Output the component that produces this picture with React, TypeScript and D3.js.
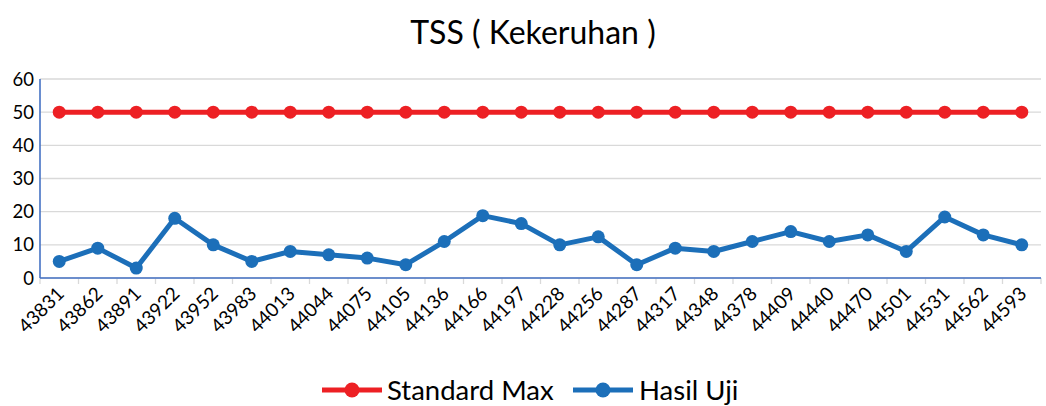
import React from 'react';
import * as d3 from 'd3';

const categories = ['43831', '43862', '43891', '43922', '43952', '43983', '44013', '44044', '44075', '44105', '44136', '44166', '44197', '44228', '44256', '44287', '44317', '44348', '44378', '44409', '44440', '44470', '44501', '44531', '44562', '44593'];
const standardMax = [50, 50, 50, 50, 50, 50, 50, 50, 50, 50, 50, 50, 50, 50, 50, 50, 50, 50, 50, 50, 50, 50, 50, 50, 50, 50];
const hasilUji = [5, 9, 3, 18, 10, 5, 8, 7, 6, 4, 11, 18.8, 16.4, 10, 12.4, 4, 9, 8, 11, 14, 11, 13, 8, 18.4, 13, 10];
const yTicks = [0, 10, 20, 30, 40, 50, 60];

const RED = '#ED2024';
const BLUE = '#1C6FB9';
const FONT = 'Lato, "Open Sans", sans-serif';

const App = () => {
  const width = 1046;
  const height = 406;
  const margin = { top: 79, right: 5, bottom: 128, left: 40 };
  const innerW = width - margin.left - margin.right;
  const innerH = height - margin.top - margin.bottom;

  const x = d3.scaleBand().domain(categories).range([0, innerW]);
  const y = d3.scaleLinear().domain([0, 60]).range([innerH, 0]);
  const cx = (c: string) => (x(c) as number) + x.bandwidth() / 2;

  const line = d3.line<number>()
    .x((_, i) => cx(categories[i]))
    .y(d => y(d));

  const series = [
    { name: 'Standard Max', values: standardMax, color: RED },
    { name: 'Hasil Uji', values: hasilUji, color: BLUE },
  ];

  return (
    <svg width={width} height={height} style={{ position: 'absolute', left: 0, top: 0 }}>
      <rect width={width} height={height} fill="#fff" />
      <text x={533} y={44} textAnchor="middle" fontFamily={FONT} fontSize={32} fill="#000">TSS ( Kekeruhan )</text>
      <g transform={`translate(${margin.left},${margin.top})`}>
        {/* gridlines */}
        {yTicks.map(t => (
          <line key={t} x1={0} x2={innerW} y1={y(t)} y2={y(t)} stroke="#d9d9d9" strokeWidth={1.3} />
        ))}
        {/* y labels */}
        {yTicks.map(t => (
          <text key={'l' + t} x={-6} y={y(t)} dy="0.36em" textAnchor="end" fontFamily={FONT} fontSize={18.5} fill="#000">{t}</text>
        ))}
        {/* x ticks */}
        {categories.concat(['end']).map((c, i) => {
          const px = i * x.bandwidth();
          return <line key={'t' + i} x1={px} x2={px} y1={innerH} y2={innerH + 6} stroke="#d9d9d9" strokeWidth={1.3} />;
        })}
        {/* axes */}
        <line x1={0} x2={innerW} y1={innerH} y2={innerH} stroke="#4472C4" strokeWidth={1.3} />
        <line x1={0} x2={0} y1={0} y2={innerH} stroke="#4472C4" strokeWidth={1.6} />
        {/* x labels */}
        {categories.map(c => (
          <text key={'x' + c} transform={`translate(${cx(c) + 6},${innerH + 17}) rotate(-45)`} textAnchor="end" fontFamily={FONT} fontSize={19} fill="#000">{c}</text>
        ))}
        {/* series */}
        {series.map(s => (
          <g key={s.name}>
            <path d={line(s.values) || ''} fill="none" stroke={s.color} strokeWidth={5} strokeLinejoin="round" />
            {s.values.map((v, i) => (
              <circle key={i} cx={cx(categories[i])} cy={y(v)} r={6.5} fill={s.color} />
            ))}
          </g>
        ))}
      </g>
      {/* legend */}
      <g fontFamily={FONT} fontSize={27.5} fill="#000">
        <line x1={322} x2={382} y1={390} y2={390} stroke={RED} strokeWidth={5} />
        <circle cx={352} cy={390} r={7.5} fill={RED} />
        <text x={387} y={390} dy="0.35em">Standard Max</text>
        <line x1={573} x2={633} y1={390} y2={390} stroke={BLUE} strokeWidth={5} />
        <circle cx={603} cy={390} r={7.5} fill={BLUE} />
        <text x={639} y={390} dy="0.35em">Hasil Uji</text>
      </g>
    </svg>
  );
};

export default App;
